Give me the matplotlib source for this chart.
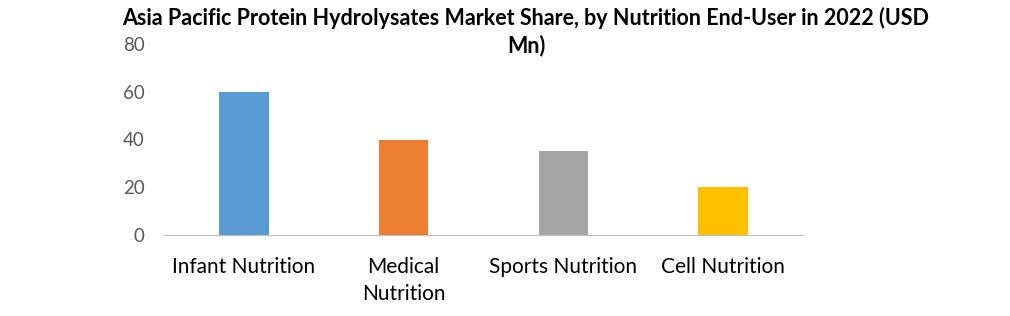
import matplotlib.pyplot as plt

categories = ["Infant Nutrition", "Medical\nNutrition", "Sports Nutrition", "Cell Nutrition"]
values = [60, 40, 35, 20]
colors = ["#5B9BD5", "#ED7D31", "#A5A5A5", "#FFC000"]
yticks = [0, 20, 40, 60, 80]
title_lines = ["Asia Pacific Protein Hydrolysates Market Share, by Nutrition End-User in 2022 (USD", "Mn)"]

plt.rcParams["font.family"] = ["Lato", "DejaVu Sans"]

fig = plt.figure(figsize=(10.10, 3.16), dpi=100)
ax = fig.add_axes([164 / 1010, 1 - 235 / 316, (803 - 164) / 1010, (235 - 44) / 316])

x = range(len(categories))
ax.bar(x, values, width=0.31, color=colors)
ax.set_xlim(-0.5, len(categories) - 0.5)
ax.set_ylim(0, 80)
ax.set_yticks(yticks)
ax.set_xticks(list(x))
ax.set_xticklabels(categories, fontsize=15, color="black", linespacing=1.45, va="top")
ax.tick_params(axis="y", length=0, pad=14, labelsize=13.5, labelcolor="#595959")
ax.tick_params(axis="x", length=0, pad=16)

for s in ["top", "right", "left"]:
    ax.spines[s].set_visible(False)
ax.spines["bottom"].set_color("#BFBFBF")
ax.spines["bottom"].set_linestyle((0, (1, 1)))
ax.spines["bottom"].set_linewidth(0.8)

for i, line in enumerate(title_lines):
    fig.text(526 / 1010, 1 - (18 + 28 * i) / 316, line,
             ha="center", va="center", fontsize=15.5, fontweight="bold")

fig.savefig("out.png", dpi=100, facecolor="white")
